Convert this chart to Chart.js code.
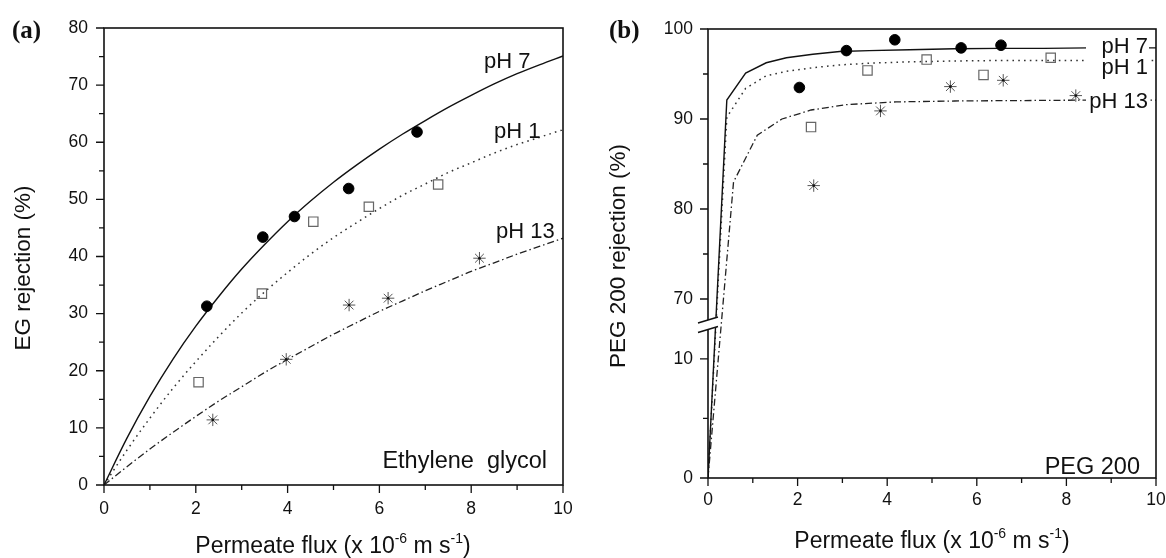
<!DOCTYPE html>
<html><head><meta charset="utf-8">
<script src="https://cdn.jsdelivr.net/npm/chart.js@4.4.1/dist/chart.umd.min.js"></script>
<style>
html,body{margin:0;padding:0;background:#fff;}
#wrap{position:relative;width:1166px;height:558px;overflow:hidden;background:#fff;}
canvas{position:absolute;top:0;}
#ca{left:0;} #cb{left:583px;}
</style></head><body>
<div id="wrap"><canvas id="ca" width="583" height="558"></canvas><canvas id="cb" width="583" height="558"></canvas></div>
<script>
// ---------- Panel (a): Ethylene glycol ----------
const a_flux_pH7 = [2.24, 3.46, 4.15, 5.33, 6.82];
const a_rej_pH7  = [31.3, 43.4, 47.0, 51.9, 61.8];
const a_flux_pH1 = [2.06, 3.44, 4.56, 5.77, 7.28];
const a_rej_pH1  = [18.0, 33.5, 46.1, 48.7, 52.6];
const a_flux_pH13 = [2.37, 3.97, 5.34, 6.19, 8.18];
const a_rej_pH13  = [11.4, 22.0, 31.5, 32.7, 39.7];
const a_fitFlux = [0,0.5,1,1.5,2,2.5,3,3.5,4,4.5,5,5.5,6,6.5,7,7.5,8,8.5,9,9.5,10];
const a_fit_pH7  = [0,8.2,15.5,22.0,27.8,33.0,37.8,42.1,46.1,49.7,53.0,56.0,58.8,61.4,63.8,66.1,68.2,70.2,72.0,73.6,75.1];
const a_fit_pH1  = [0,6.1,11.7,16.9,21.6,26.0,30.1,33.8,37.2,40.4,43.3,45.9,48.4,50.7,52.7,54.7,56.4,58.1,59.6,60.9,62.2];
const a_fit_pH13 = [0,3.2,6.3,9.2,12.0,14.7,17.2,19.7,22.0,24.2,26.4,28.4,30.4,32.2,34.0,35.7,37.4,38.9,40.4,41.8,43.2];
const a_xMajor = [0,2,4,6,8,10], a_xMinor = [1,3,5,7,9];
const a_yMajor = [0,10,20,30,40,50,60,70,80], a_yMinor = [5,15,25,35,45,55,65,75];

// ---------- Panel (b): PEG 200 ----------
const b_flux_pH7 = [2.04, 3.09, 4.17, 5.65, 6.54];
const b_rej_pH7  = [93.5, 97.6, 98.8, 97.9, 98.2];
const b_flux_pH1 = [2.30, 3.56, 4.88, 6.15, 7.65];
const b_rej_pH1  = [89.1, 95.4, 96.6, 94.9, 96.8];
const b_flux_pH13 = [2.36, 3.85, 5.41, 6.59, 8.21];
const b_rej_pH13  = [82.6, 90.9, 93.6, 94.3, 92.6];
const b_fitFlux_pH7 = [0,0.42,0.84,1.3,1.75,2.34,2.94,3.6,4.5,5.5,6.5,7.5,8.5,10];
const b_fit_pH7     = [0,92.1,95.1,96.25,96.8,97.2,97.5,97.6,97.7,97.8,97.85,97.85,97.9,97.9];
const b_fitFlux_pH1 = [0,0.42,0.84,1.3,1.75,2.34,2.94,3.6,4.5,5.5,6.5,7.5,8.5,10];
const b_fit_pH1     = [0,90.2,93.4,94.8,95.3,95.7,96.0,96.2,96.35,96.45,96.5,96.5,96.5,96.5];
const b_fitFlux_pH13 = [0,0.57,1.1,1.65,2.3,3.1,4.2,5.5,7.0,8.5,10];
const b_fit_pH13     = [0,83.0,88.2,90.0,91.0,91.6,91.9,92.0,92.05,92.1,92.1];
const b_xMajor = [0,2,4,6,8,10], b_xMinor = [1,3,5,7,9];
const b_yMajor = [0,10,70,80,90,100], b_yMinor = [5,75,85,95];

const FAM = "'Liberation Sans', Arial, Helvetica, sans-serif";
const SERIF = "'Liberation Serif', 'Times New Roman', serif";
const INK = '#111';

// ---------- broken y scale (0-12.5 | 67.5-100) ----------
const BRK = {lowMax: 12.5, highMin: 67.5, top: 100, lowFrac: 149/449, highFrac: 292.5/449};
class BrokenLinearScale extends Chart.LinearScale {
  _segs() {
    const t = this.top, b = this.bottom, h = b - t;
    return {t, b, lowTop: b - h * BRK.lowFrac, highBot: t + h * BRK.highFrac};
  }
  getPixelForValue(v) {
    if (v === null || v === undefined || isNaN(v)) return NaN;
    const s = this._segs();
    if (v <= BRK.lowMax) return s.b - (v / BRK.lowMax) * (s.b - s.lowTop);
    if (v >= BRK.highMin) return s.highBot - (v - BRK.highMin) / (BRK.top - BRK.highMin) * (s.highBot - s.t);
    return s.lowTop - (v - BRK.lowMax) / (BRK.highMin - BRK.lowMax) * (s.lowTop - s.highBot);
  }
  getValueForPixel(p) {
    const s = this._segs();
    if (p >= s.lowTop) return (s.b - p) / (s.b - s.lowTop) * BRK.lowMax;
    if (p <= s.highBot) return BRK.highMin + (s.highBot - p) / (s.highBot - s.t) * (BRK.top - BRK.highMin);
    return BRK.lowMax + (s.lowTop - p) / (s.lowTop - s.highBot) * (BRK.highMin - BRK.lowMax);
  }
}
BrokenLinearScale.id = 'brokenLinear';
BrokenLinearScale.defaults = Chart.LinearScale.defaults;
Chart.register(BrokenLinearScale);

const pts = (xs, ys) => xs.map((x, i) => ({x, y: ys[i]}));

function pointSets(p7, p1, p13) {
  return [
    {data: p7, showLine: false, pointStyle: 'circle', pointRadius: 5.3, pointBackgroundColor: '#000', pointBorderColor: '#000', pointBorderWidth: 1},
    {data: p1, showLine: false, pointStyle: 'rect', pointRadius: 6.6, pointBackgroundColor: 'rgba(0,0,0,0)', pointBorderColor: '#666', pointBorderWidth: 1.2},
    {data: p13, showLine: false, pointStyle: 'star', pointRadius: 6.2, pointBackgroundColor: 'rgba(0,0,0,0)', pointBorderColor: '#555', pointBorderWidth: 1, isStar: true},
  ];
}
function lineSets(l7, l1, l13, smooth) {
  const base = {showLine: true, pointRadius: 0, fill: false, cubicInterpolationMode: smooth ? 'monotone' : 'default', tension: 0};
  return [
    Object.assign({}, base, {data: l7, borderColor: '#111', borderWidth: 1.4}),
    Object.assign({}, base, {data: l1, borderColor: '#333', borderWidth: 1.5, borderDash: [1.6, 4.2]}),
    Object.assign({}, base, {data: l13, borderColor: '#222', borderWidth: 1.3, borderDash: [7, 3, 1.5, 3]}),
  ];
}

function drawFluxTitle(ctx, cx, baseline, size) {
  const parts = [['Permeate flux (x 10', 0], ['-6', 1], [' m s', 0], ['-1', 1], [')', 0]];
  const f = size + 'px ' + FAM, fs = Math.round(size * 0.62) + 'px ' + FAM;
  let w = 0;
  parts.forEach(([t, s]) => { ctx.font = s ? fs : f; w += ctx.measureText(t).width; });
  let x = cx - w / 2;
  ctx.textAlign = 'left'; ctx.textBaseline = 'alphabetic'; ctx.fillStyle = INK;
  parts.forEach(([t, s]) => { ctx.font = s ? fs : f; ctx.fillText(t, x, s ? baseline - size * 0.45 : baseline); x += ctx.measureText(t).width; });
}

function decor(cfg) {
  return {
    id: 'decor',
    afterDatasetsDraw(chart) {
      const ctx = chart.ctx, {left, right, top, bottom} = chart.chartArea;
      const xs = chart.scales.x, ys = chart.scales.y;
      ctx.save();
      chart.data.datasets.forEach((ds, i) => {
        if (!ds.isStar) return;
        chart.getDatasetMeta(i).data.forEach(el => {
          ctx.fillStyle = '#111'; ctx.beginPath(); ctx.arc(el.x, el.y, 1.3, 0, Math.PI * 2); ctx.fill();
        });
      });
      (cfg.boxes || []).forEach(b => { ctx.fillStyle = '#fff'; ctx.fillRect(b[0], b[1], b[2], b[3]); });
      ctx.strokeStyle = INK; ctx.lineWidth = 1.6;
      ctx.strokeRect(left, top, right - left, bottom - top);
      ctx.lineWidth = 1.3; ctx.beginPath();
      cfg.xMajor.forEach(v => { const p = xs.getPixelForValue(v); ctx.moveTo(p, bottom); ctx.lineTo(p, bottom + 8); });
      cfg.xMinor.forEach(v => { const p = xs.getPixelForValue(v); ctx.moveTo(p, bottom); ctx.lineTo(p, bottom + 5); });
      cfg.yMajor.forEach(v => { const p = ys.getPixelForValue(v); ctx.moveTo(left, p); ctx.lineTo(left - 8, p); });
      cfg.yMinor.forEach(v => { const p = ys.getPixelForValue(v); ctx.moveTo(left, p); ctx.lineTo(left - 5, p); });
      ctx.stroke();
      if (cfg.broken) {
        const h = bottom - top;
        const yU = top + h * BRK.highFrac - 1.5, yL = bottom - h * BRK.lowFrac + 0.5;
        ctx.fillStyle = '#fff'; ctx.beginPath();
        ctx.moveTo(left - 10, yU + 3); ctx.lineTo(left + 10, yU - 3); ctx.lineTo(left + 10, yL - 3); ctx.lineTo(left - 10, yL + 3); ctx.closePath(); ctx.fill();
        ctx.strokeStyle = INK; ctx.lineWidth = 1.5; ctx.beginPath();
        ctx.moveTo(left - 10, yU + 3); ctx.lineTo(left + 10, yU - 3);
        ctx.moveTo(left - 10, yL + 3); ctx.lineTo(left + 10, yL - 3);
        ctx.stroke();
      }
      ctx.fillStyle = INK;
      (cfg.labels || []).forEach(l => {
        ctx.font = (l.size || 22) + 'px ' + FAM; ctx.textAlign = l.align || 'left'; ctx.textBaseline = 'alphabetic';
        ctx.fillText(l.t, l.x, l.y);
      });
      ctx.font = 'bold 25px ' + SERIF; ctx.textAlign = 'left'; ctx.textBaseline = 'alphabetic';
      ctx.fillText(cfg.letter.t, cfg.letter.x, cfg.letter.y);
      ctx.save();
      ctx.translate(cfg.yTitle.x, cfg.yTitle.y); ctx.rotate(-Math.PI / 2);
      ctx.font = '22.5px ' + FAM; ctx.textAlign = 'center'; ctx.textBaseline = 'middle';
      ctx.fillText(cfg.yTitle.t, 0, 0);
      ctx.restore();
      drawFluxTitle(ctx, cfg.xTitle.x, cfg.xTitle.y, 23);
      ctx.restore();
    }
  };
}

const tickFont = {family: FAM, size: 17.5};
// label offset is carried by an (undrawn) tick length so that it does not widen the side padding
function xScale(offset, h, major) {
  return {type: 'linear', min: 0, max: 10, grid: {display: false, drawTicks: true, tickLength: offset}, border: {display: false},
    afterBuildTicks: s => { s.ticks = major.map(v => ({value: v})); },
    ticks: {padding: 0, font: tickFont, color: INK, maxRotation: 0, autoSkip: false, callback: v => String(v)},
    afterFit: s => { s.height = h; }};
}
function yScale(type, max, offset, w, major) {
  return {type, min: 0, max, grid: {display: false, drawTicks: true, tickLength: offset}, border: {display: false},
    afterBuildTicks: s => { s.ticks = major.map(v => ({value: v})); },
    ticks: {padding: 0, font: tickFont, color: INK, autoSkip: false, callback: v => String(v)},
    afterFit: s => { s.width = w; }};
}

// Panel (a)
new Chart(document.getElementById('ca'), {
  type: 'scatter',
  data: {datasets: pointSets(pts(a_flux_pH7, a_rej_pH7), pts(a_flux_pH1, a_rej_pH1), pts(a_flux_pH13, a_rej_pH13))
    .concat(lineSets(pts(a_fitFlux, a_fit_pH7), pts(a_fitFlux, a_fit_pH1), pts(a_fitFlux, a_fit_pH13), true))},
  options: {
    responsive: false, animation: false, events: [],
    layout: {padding: {left: 0, right: 20, top: 28, bottom: 0}},
    plugins: {legend: {display: false}, tooltip: {enabled: false}},
    scales: {x: xScale(14, 73, a_xMajor), y: yScale('linear', 80, 16, 104, a_yMajor)}
  },
  plugins: [decor({
    xMajor: a_xMajor, xMinor: a_xMinor, yMajor: a_yMajor, yMinor: a_yMinor,
    letter: {t: '(a)', x: 12, y: 38},
    yTitle: {t: 'EG rejection (%)', x: 24, y: 268},
    xTitle: {x: 333, y: 553},
    labels: [
      {t: 'pH 7', x: 484, y: 68},
      {t: 'pH 1', x: 494, y: 138},
      {t: 'pH 13', x: 496, y: 237.5},
      {t: 'Ethylene  glycol', x: 547, y: 467.5, align: 'right', size: 23.5}
    ]
  })]
});

// Panel (b)
new Chart(document.getElementById('cb'), {
  type: 'scatter',
  data: {datasets: pointSets(pts(b_flux_pH7, b_rej_pH7), pts(b_flux_pH1, b_rej_pH1), pts(b_flux_pH13, b_rej_pH13))
    .concat(lineSets(pts(b_fitFlux_pH7, b_fit_pH7), pts(b_fitFlux_pH1, b_fit_pH1), pts(b_fitFlux_pH13, b_fit_pH13), false))},
  options: {
    responsive: false, animation: false, events: [],
    layout: {padding: {left: 0, right: 10, top: 29, bottom: 0}},
    plugins: {legend: {display: false}, tooltip: {enabled: false}},
    scales: {x: xScale(11.5, 80, b_xMajor), y: yScale('brokenLinear', 100, 15, 125, b_yMajor)}
  },
  plugins: [decor({
    xMajor: b_xMajor, xMinor: b_xMinor, yMajor: b_yMajor, yMinor: b_yMinor, broken: true,
    letter: {t: '(b)', x: 26, y: 38},
    yTitle: {t: 'PEG 200 rejection (%)', x: 35.5, y: 256},
    xTitle: {x: 349, y: 548},
    boxes: [[503, 35, 63, 21], [503, 57, 63, 20], [503, 90, 63, 22]],
    labels: [
      {t: 'pH 7', x: 565, y: 53, align: 'right'},
      {t: 'pH 1', x: 565, y: 74, align: 'right'},
      {t: 'pH 13', x: 565, y: 108, align: 'right'},
      {t: 'PEG 200', x: 557, y: 474, align: 'right', size: 23.5}
    ]
  })]
});
</script>
</body></html>
